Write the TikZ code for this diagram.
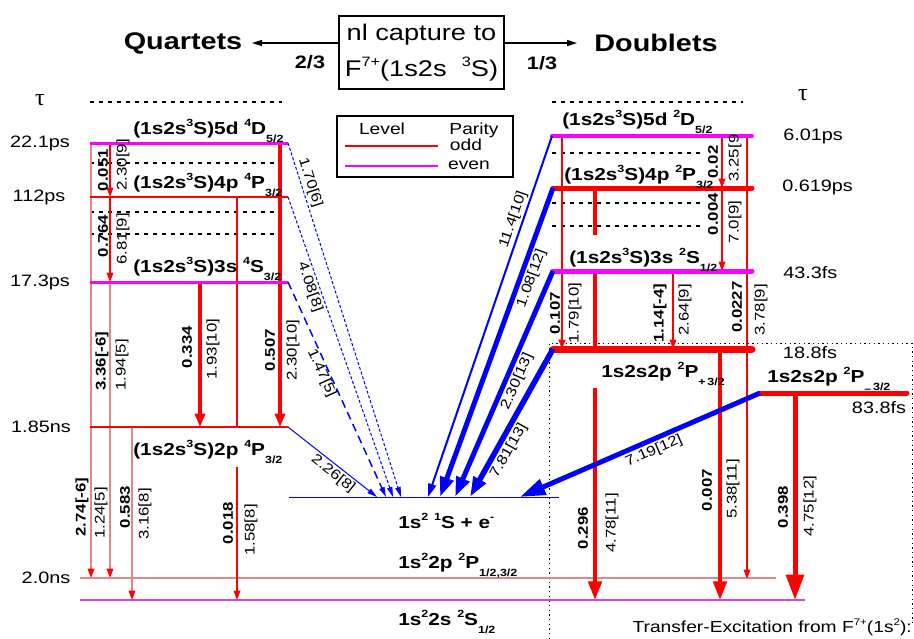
\documentclass[tikz,border=0pt]{standalone}
\usepackage{fontspec}
\setmainfont{Liberation Sans}[FakeStretch=1.2]
\newfontfamily\taufont{Liberation Serif}
\usepackage{graphicx}
\usetikzlibrary{arrows.meta}
\definecolor{lred}{RGB}{255,0,0}
\definecolor{lmag}{RGB}{255,0,255}
\definecolor{lpink}{RGB}{225,135,135}
\definecolor{lblue}{RGB}{0,0,255}
\definecolor{lbmag}{RGB}{215,70,215}
\newcommand\sps[1]{\raisebox{0.85ex}{\scalebox{0.6}{#1}}}
\newcommand\sbs[1]{\raisebox{-0.9ex}{\scalebox{0.6}{#1}}}
\newcommand\setfs[1]{\fontsize{#1}{#1}\selectfont}
\begin{document}
\begin{tikzpicture}[x=0.75pt,y=-0.75pt,
  lvlM/.style={draw=lmag,line width=2.25pt},
  lvlR/.style={draw=lred,line width=1.5pt},
  lvlMr/.style={draw=lmag,line width=#1,line cap=round},
  lvlRr/.style={draw=lred,line width=#1,line cap=round},
  dotl/.style={draw=black,line width=1.5pt,dash pattern=on 3pt off 3.75pt},
  boxdot/.style={draw=black,line width=0.75pt,dash pattern=on 1pt off 2.5pt},
  tipS/.style={-{Triangle[length=7pt,width=5pt,color=lred]}},
  tipM/.style={-{Triangle[length=10pt,width=7.5pt]}},
  tipL/.style={-{Triangle[length=14pt,width=10pt]}},
  tipXL/.style={-{Triangle[length=19pt,width=13pt]}},
  tipB/.style={-{Triangle[length=15pt,width=10pt]}},
  tipBt/.style={-{Triangle[length=7.5pt,width=4pt]}},
  thinpink/.style={draw=lpink,line width=1pt},
  thinred/.style={draw=lred,line width=1.1pt},
  vb/.style={rotate=90,font=\bfseries\setfs{10.5},inner sep=0pt},
  vr/.style={rotate=90,font=\setfs{10.5},inner sep=0pt},
  blab/.style={font=\setfs{10.5},inner sep=1.5pt,sloped,text=black},
  lbl/.style={font=\bfseries\setfs{13},inner sep=0pt,anchor=base west},
  life/.style={font=\setfs{12.4},inner sep=0pt},
  leg/.style={font=\setfs{12},inner sep=0pt}]
\useasboundingbox (0,0) rectangle (914,639);

% ---------- top ----------
\node[font=\bfseries\setfs{18}] (quart) at (183,43) {Quartets};
\node[font=\bfseries\setfs{18}] (doub) at (656,43) {Doublets};
\node[draw,line width=1.1pt,minimum width=123.75pt,minimum height=54.75pt,inner sep=0pt,
      align=center,font=\fontsize{17}{27.5}\selectfont] (cap) at (421.5,52.5)
      {nl capture to\\F\sps{7+}(1s2s\ \ \sps{3}S)};
\coordinate (capL) at (339,43);
\coordinate (capR) at (504,43);
\coordinate (qa) at (252,43);
\coordinate (da) at (577,43);
\draw[line width=0.9pt,-{Triangle[length=7.5pt,width=4.5pt]}] (capL) -- (qa);
\draw[line width=0.9pt,-{Triangle[length=7.5pt,width=4.5pt]}] (capR) -- (da);
\node[font=\bfseries\setfs{13.5}] (f23) at (310,62) {2/3};
\node[font=\bfseries\setfs{13.5}] (f13) at (542,63) {1/3};

% ---------- legend ----------
\node[draw,line width=1.1pt,minimum width=132pt,minimum height=45.75pt,inner sep=0pt] (legbox) at (425,146.5) {};
\node[leg] (lgl) at (382,129) {Level};
\node[leg] (lgp) at (474,130) {Parity};
\node[leg] (lgo) at (466,145) {odd};
\node[leg] (lge) at (469,165) {even};
\coordinate (lo1) at (345,146); \coordinate (lo2) at (438,146);
\coordinate (le1) at (345,166); \coordinate (le2) at (438,166);
\draw[lred,line width=1.5pt] (lo1) -- (lo2);
\draw[lmag,line width=1.5pt] (le1) -- (le2);

% ---------- dotted lines ----------
\foreach \y in {102,163,212,234} \draw[dotl] (90,\y) -- (282,\y);
\draw[dotl] (552,102) -- (743,102);
\foreach \y in {153,203,226} \draw[dotl] (552,\y) -- (705,\y);
\coordinate (bx1) at (549,639); \coordinate (bx2) at (549,343);
\coordinate (bx3) at (912,343); \coordinate (bx4) at (912,625);
\draw[boxdot] (bx1) -- (bx2) -- (bx3) -- (bx4);

% ---------- lifetimes ----------
\node[life,font=\taufont\setfs{18}] (tauL) at (40,100) {τ};
\node[life,font=\taufont\setfs{18}] (tauR) at (803,95) {τ};
\node[life] (lt1) at (40,143) {22.1ps};
\node[life] (lt2) at (39,197) {112ps};
\node[life] (lt3) at (40,282) {17.3ps};
\node[life] (lt4) at (41,427) {1.85ns};
\node[life] (lt5) at (46,578) {2.0ns};
\node[life,anchor=west] (lt6) at (783,136) {6.01ps};
\node[life,anchor=west] (lt7) at (782,187) {0.619ps};
\node[life,anchor=west] (lt8) at (783,273) {43.3fs};
\node[life] (lt9) at (810,353) {18.8fs};
\node[life] (lt10) at (879,408) {83.8fs};

% ---------- bottom levels ----------
\coordinate (g2p1) at (80,578); \coordinate (g2p2) at (776,578);
\coordinate (g2s1) at (80,600); \coordinate (g2s2) at (805,600);
\coordinate (c1) at (289,497); \coordinate (c2) at (559,497);
\draw[lpink,line width=1.1pt] (g2p1) -- (g2p2);
\draw[lbmag,line width=1.1pt] (g2s1) -- (g2s2);
\draw[lblue,line width=0.75pt] (c1) -- (c2);

% ---------- left vertical transitions ----------
\coordinate (v1a) at (91,143); \coordinate (v1b) at (91,578);
\draw[thinpink,tipS] (v1a) -- (v1b);
\coordinate (v2a) at (110,143); \coordinate (v2b) at (110,197);
\coordinate (v2c) at (110,282); \coordinate (v2d) at (110,578);
\draw[thinred,tipS] (v2a) -- (v2b);
\draw[thinred,tipS] (v2b) -- (v2c);
\draw[thinpink,tipS] (v2c) -- (v2d);
\coordinate (v3a) at (132,427); \coordinate (v3b) at (132,600);
\draw[thinpink,tipS] (v3a) -- (v3b);
\coordinate (v4a) at (200,282); \coordinate (v4b) at (200,427);
\draw[lred,line width=2.6pt,tipM] (v4a) -- (v4b);
\coordinate (v5a) at (237,197); \coordinate (v5b) at (237,427);
\coordinate (v5c) at (237,467); \coordinate (v5d) at (237,600);
\draw[thinred] (v5a) -- (v5b);
\draw[thinred,tipS] (v5c) -- (v5d);
\coordinate (v6a) at (280,143); \coordinate (v6b) at (280,427);
\draw[lred,line width=2.6pt,tipM] (v6a) -- (v6b);

% ---------- left levels ----------
\coordinate (qD1) at (90,143); \coordinate (qD2) at (288,143);
\coordinate (qP1) at (90,197); \coordinate (qP2) at (288,197);
\coordinate (qS1) at (90,282); \coordinate (qS2) at (288,282);
\coordinate (qp1) at (90,427); \coordinate (qp2) at (288,427);
\draw[lvlM] (qD1) -- (qD2);
\draw[lvlR] (qP1) -- (qP2);
\draw[lvlM] (qS1) -- (qS2);
\draw[lvlR] (qp1) -- (qp2);

% ---------- right vertical transitions ----------
\coordinate (w1a) at (562,136); \coordinate (w1b) at (562,349);
\draw[lred,line width=1.5pt,tipS] (w1a) -- (w1b);
\coordinate (w2a) at (595,188); \coordinate (w2b) at (595,235);
\coordinate (w2c) at (595,271); \coordinate (w2d) at (595,349);
\coordinate (w2e) at (595,388); \coordinate (w2f) at (595,600);
\draw[lred,line width=3pt] (w2a) -- (w2b);
\draw[lred,line width=3pt] (w2c) -- (w2d);
\draw[lred,line width=3pt,tipL] (w2e) -- (w2f);
\coordinate (w3a) at (673,271); \coordinate (w3b) at (673,349);
\draw[thinred,tipS] (w3a) -- (w3b);
\coordinate (w4a) at (722,136); \coordinate (w4b) at (722,188); \coordinate (w4c) at (722,271);
\draw[thinred,tipS] (w4a) -- (w4b);
\draw[thinred,tipS] (w4b) -- (w4c);
\coordinate (w5a) at (747,136); \coordinate (w5b) at (747,579);
\draw[thinred,tipS] (w5a) -- (w5b);
\coordinate (w6a) at (720,349); \coordinate (w6b) at (720,600);
\draw[lred,line width=3pt,tipL] (w6a) -- (w6b);
\coordinate (w7a) at (795,393); \coordinate (w7b) at (795,600);
\draw[lred,line width=3.75pt,tipXL] (w7a) -- (w7b);

% ---------- right levels ----------
\coordinate (dD1) at (552,136); \coordinate (dD2) at (752,136);
\coordinate (dP1) at (553,188); \coordinate (dP2) at (752,188);
\coordinate (dS1) at (553,271); \coordinate (dS2) at (752,271);
\coordinate (dA1) at (553,349); \coordinate (dA2) at (752,349);
\coordinate (dB1) at (760,393); \coordinate (dB2) at (907,393);
\draw[lvlMr=3pt] (dD1) -- (dD2);
\draw[lvlRr=3.75pt] (dP1) -- (dP2);
\draw[lvlMr=3.75pt] (dS1) -- (dS2);
\draw[lvlRr=5.25pt] (dA1) -- (dA2);
\draw[lvlRr=3.75pt] (dB1) -- (dB2);

% ---------- blue autoionisation (left) ----------
\coordinate (L1e) at (401,497); \coordinate (L2e) at (393,497);
\coordinate (L3e) at (386,497); \coordinate (L4e) at (377,497);
\draw[lblue,line width=0.75pt,dash pattern=on 2.25pt off 1.5pt,tipBt] (qD2) -- node[blab,pos=0.12,above] (b1) {1.70[6]} (L1e);
\draw[lblue,line width=0.75pt,dash pattern=on 2.25pt off 1.5pt,tipBt] (qP2) -- node[blab,pos=0.29,below] (b2) {4.08[8]} (L2e);
\draw[lblue,line width=1.1pt,dash pattern=on 6pt off 3.75pt,tipBt] (qS2) -- node[blab,pos=0.41,below,inner sep=0pt] (b3) {1.47[5]} (L3e);
\draw[lblue,line width=0.75pt,tipBt] (qp2) -- node[blab,pos=0.57,below] (b4) {2.26[8]} (L4e);

% ---------- blue autoionisation (right) ----------
\coordinate (R1e) at (428,497); \coordinate (R2e) at (440,497);
\coordinate (R3e) at (455,497); \coordinate (R4e) at (470,497);
\coordinate (R5e) at (520,497);
\draw[lblue,line width=1.5pt,-{Triangle[length=10pt,width=6pt]}] (dD1) -- node[blab,pos=0.24,above] (b5) {11.4[10]} (R1e);
\draw[lblue,line width=3.75pt,tipB] (dP1) -- node[blab,pos=0.28,below] (b6) {1.08[12]} (R2e);
\draw[lblue,line width=3.75pt,tipB] (dS1) -- node[blab,pos=0.47,below] (b7) {2.30[13]} (R3e);
\draw[lblue,line width=4.2pt,tipB] (dA1) -- node[blab,pos=0.65,below] (b8) {7.81[13]} (R4e);
\draw[lblue,line width=3.75pt,-{Triangle[length=19pt,width=12pt]}] (dB1) -- node[blab,pos=0.46,below] (b9) {7.19[12]} (R5e);

% ---------- vertical labels ----------
\node[vb] (t01) at (103,170) {0.051};
\node[vr] (t02) at (123,165) {2.30[9]};
\node[vb] (t03) at (103,236) {0.764};
\node[vr] (t04) at (123,239) {6.81[9]};
\node[vb] (t05) at (102,361) {3.36[-6]};
\node[vr] (t06) at (122,365) {1.94[5]};
\node[vb] (t07) at (187,347) {0.334};
\node[vr] (t08) at (213,349) {1.93[10]};
\node[vb] (t09) at (270,350) {0.507};
\node[vr] (t10) at (293,350) {2.30[10]};
\node[vb] (t11) at (82,507) {2.74[-6]};
\node[vr] (t12) at (101,513) {1.24[5]};
\node[vb] (t13) at (125,507) {0.583};
\node[vr] (t14) at (145,514) {3.16[8]};
\node[vb] (t15) at (228,523) {0.018};
\node[vr] (t16) at (251,530) {1.58[8]};
\node[vb] (t17) at (713,162) {0.02};
\node[vr] (t18) at (735,158) {3.25[9};
\node[vb] (t19) at (713,214) {0.004};
\node[vr] (t20) at (735,222) {7.0[9]};
\node[vb] (t21) at (555,313) {0.107};
\node[vr] (t22) at (575,313) {1.79[10]};
\node[vb] (t23) at (660,313) {1.14[-4]};
\node[vr] (t24) at (685,310) {2.64[9]};
\node[vb] (t25) at (737,307) {0.0227};
\node[vr] (t26) at (761,310) {3.78[9]};
\node[vb] (t27) at (583,528) {0.296};
\node[vr] (t28) at (612,523) {4.78[11]};
\node[vb] (t29) at (707,490) {0.007};
\node[vr] (t30) at (733,489) {5.38[11]};
\node[vb] (t31) at (783,507) {0.398};
\node[vr] (t32) at (810,506) {4.75[12]};

% ---------- level labels ----------
\node[lbl] (n1) at (133,134) {(1s2s\sps{3}S)5d \sps{4}D\sbs{5/2}};
\node[lbl] (n2) at (133,188) {(1s2s\sps{3}S)4p \sps{4}P\sbs{3/2}};
\node[lbl] (n3) at (133,272) {(1s2s\sps{3}S)3s \sps{4}S\sbs{3/2}};
\node[lbl] (n4) at (133,455) {(1s2s\sps{3}S)2p \sps{4}P\sbs{3/2}};
\node[lbl] (n5) at (562,125) {(1s2s\sps{3}S)5d \sps{2}D\sbs{5/2}};
\node[lbl] (n6) at (564,180) {(1s2s\sps{3}S)4p \sps{2}P\sbs{3/2}};
\node[lbl] (n7) at (569,263) {(1s2s\sps{3}S)3s \sps{2}S\sbs{1/2}};
\node[lbl] (n8) at (601,377) {1s2s2p \sps{2}P\sbs{+\,3/2}};
\node[lbl] (n9) at (767,382) {1s2s2p \sps{2}P\sbs{\raisebox{-0.4ex}{–}\,3/2}};
\node[lbl] (n10) at (398,528) {1s\sps{2} \sps{1}S + e\sps{-}};
\node[lbl] (n11) at (398,568) {1s\sps{2}2p \sps{2}P\sbs{1/2,3/2}};
\node[lbl] (n12) at (398,625) {1s\sps{2}2s \sps{2}S\sbs{1/2}};
\node[font=\setfs{12},inner sep=0pt,anchor=east] (tex) at (912,627) {Transfer-Excitation from F\sps{7+}(1s\sps{2}):};
\end{tikzpicture}
\end{document}
